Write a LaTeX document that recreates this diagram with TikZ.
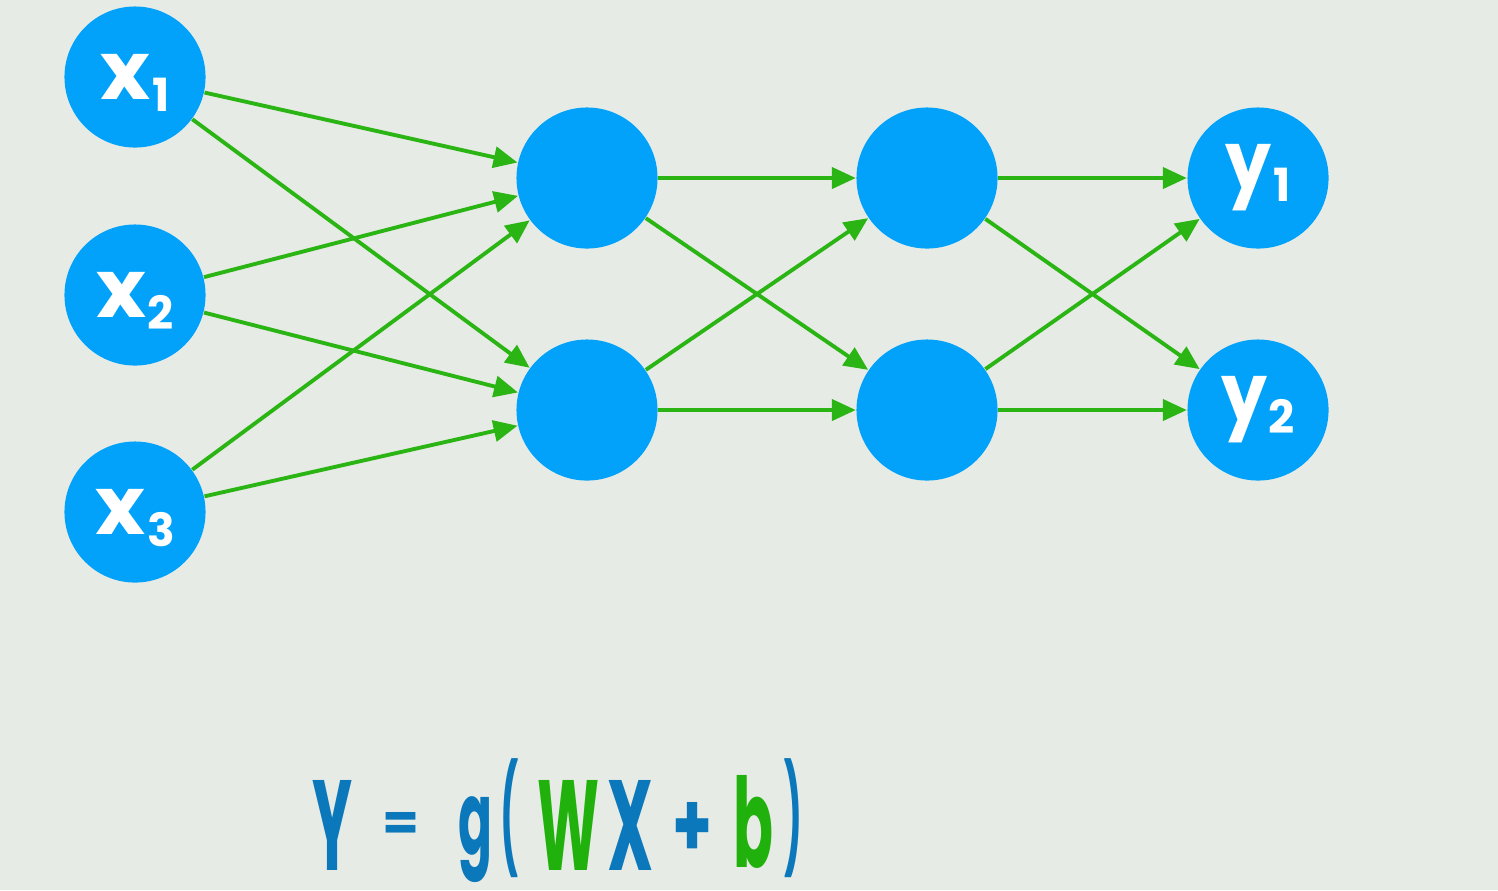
\documentclass[tikz,border=0pt]{standalone}
\usepackage{fontspec}
\usepackage{graphicx}
\setmainfont{Poppins}
\usetikzlibrary{arrows.meta}
\definecolor{bg}{HTML}{E7EBE5}
\definecolor{nodeblue}{HTML}{03A2FA}
\definecolor{edgegreen}{HTML}{2BB515}
\definecolor{fblue}{HTML}{0A78BA}
\definecolor{fgreen}{HTML}{20B10C}
\tikzset{
  neuron/.style={circle, fill=nodeblue, minimum size=1.41cm, inner sep=0pt, text=white, font=\fontsize{23}{23}\selectfont\bfseries},
  link/.style={draw=edgegreen, line width=1.1pt, -{Triangle[length=6.8pt,width=6pt]}},
  ftext/.style={anchor=center, inner sep=0pt, font=\fontsize{36}{36}\selectfont\bfseries}
}
\newcommand{\nlabel}[3]{\scalebox{#3}[1]{#1}\kern0.5pt\smash{\raisebox{-3.4pt}{\fontsize{13}{13}\selectfont #2}}}
% glyph of given width and total height (in px of the reference, 1px = 0.2845pt)
\newcommand{\glyph}[3]{\resizebox*{#1\dimexpr 0.2845pt\relax}{#2\dimexpr 0.2845pt\relax}{#3}}
\begin{document}
\begin{tikzpicture}[x=0.01cm, y=-0.01cm]
\fill[bg] (0,0) rectangle (1498,890);
\useasboundingbox (0,0) rectangle (1498,890);
% input layer
\node[neuron] (x1) at (135,77) {\nlabel{x}{1}{1.05}};
\node[neuron] (x2) at (135,295) {\nlabel{x}{2}{1.05}};
\node[neuron] (x3) at (135,512) {\nlabel{x}{3}{1.05}};
% hidden layers
\node[neuron] (a1) at (587,178) {};
\node[neuron] (a2) at (587,410) {};
\node[neuron] (b1) at (927,178) {};
\node[neuron] (b2) at (927,410) {};
% output layer
\node[neuron] (y1) at (1258,178) {\nlabel{y}{1}{0.9}};
\node[neuron] (y2) at (1258,410) {\nlabel{y}{2}{0.9}};
% connections
\foreach \s in {x1,x2,x3}{
  \foreach \t in {a1,a2}{
    \draw[link] (\s) -- (\t);
  }
}
\foreach \s in {a1,a2}{
  \foreach \t in {b1,b2}{
    \draw[link] (\s) -- (\t);
  }
}
\foreach \s in {b1,b2}{
  \foreach \t in {y1,y2}{
    \draw[link] (\s) -- (\t);
  }
}
% formula
\node[ftext, text=fblue] (fY) at (333,825) {\glyph{40}{90}{Y}};
\node[ftext, text=fblue] (feq) at (401,826) {\glyph{37}{28}{=}};
\node[ftext, text=fblue] (fg) at (475,840) {\glyph{34}{86}{g}};
\node[ftext, text=fblue] (flp) at (509,818) {\glyph{18}{119}{(}};
\node[ftext, text=fgreen] (fW) at (569,825) {\glyph{62}{90}{W}};
\node[ftext, text=fblue] (fX) at (630,825) {\glyph{46}{90}{X}};
\node[ftext, text=fblue] (fplus) at (692,830) {\glyph{40}{55}{+}};
\node[ftext, text=fgreen] (fb) at (753,822) {\glyph{40}{93}{b}};
\node[ftext, text=fblue] (frp) at (793,818) {\glyph{18}{119}{)}};
\end{tikzpicture}
\end{document}
